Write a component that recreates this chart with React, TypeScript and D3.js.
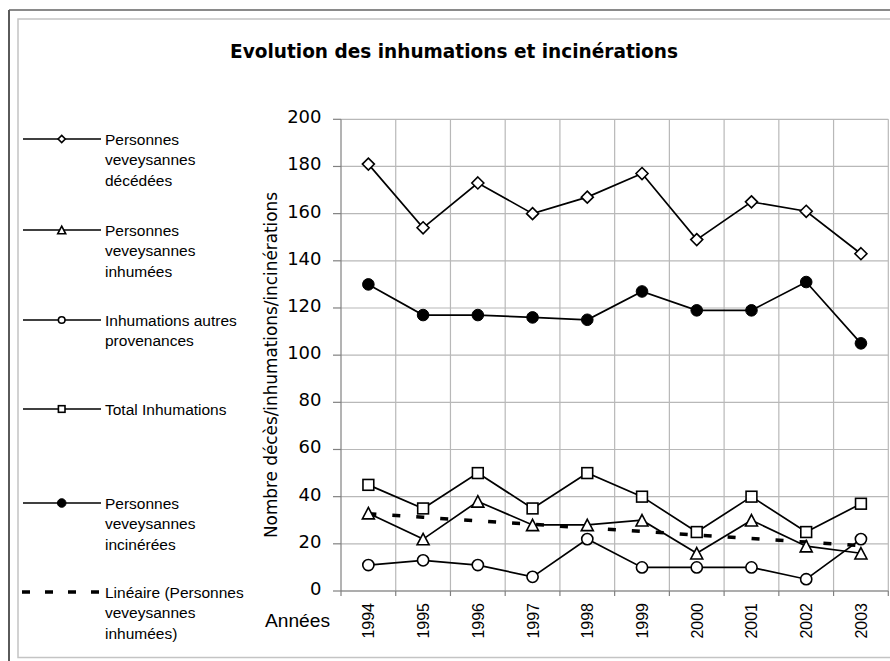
import React from "react";
import * as d3 from "d3";

const years = ["1994","1995","1996","1997","1998","1999","2000","2001","2002","2003"];
const decedees = [181,154,173,160,167,177,149,165,161,143];
const inhumees = [33,22,38,28,28,30,16,30,19,16];
const autres = [11,13,11,6,22,10,10,10,5,22];
const totalInh = [45,35,50,35,50,40,25,40,25,37];
const incinerees = [130,117,117,116,115,127,119,119,131,105];
const yTicks = [0,20,40,60,80,100,120,140,160,180,200];

const W = 890, H = 661;
const L = 341, R = 888.3, T = 119.3, B = 591;

type Mk = "diamond" | "triangle" | "circle" | "square" | "dot";

function marker(kind: Mk, cx: number, cy: number, s: number, key: string) {
  const st = { stroke: "#000", strokeWidth: 1.6 };
  if (kind === "diamond") {
    const p = `M${cx},${cy - s}L${cx + s},${cy}L${cx},${cy + s}L${cx - s},${cy}Z`;
    return <path key={key} d={p} fill="#fff" {...st} />;
  }
  if (kind === "triangle") {
    const h = s * 0.95;
    const p = `M${cx},${cy - h}L${cx + s},${cy + h}L${cx - s},${cy + h}Z`;
    return <path key={key} d={p} fill="#fff" {...st} />;
  }
  if (kind === "square") {
    return <rect key={key} x={cx - s} y={cy - s} width={2 * s} height={2 * s} fill="#fff" {...st} />;
  }
  if (kind === "circle") {
    return <circle key={key} cx={cx} cy={cy} r={s} fill="#fff" {...st} />;
  }
  return <circle key={key} cx={cx} cy={cy} r={s} fill="#000" stroke="#000" strokeWidth={1} />;
}

const series: { name: string[]; values: number[]; mk: Mk; size: number; lsize: number; ly: number }[] = [
  { name: ["Personnes", "veveysannes", "décédées"], values: decedees, mk: "diamond", size: 6, lsize: 3.6, ly: 139 },
  { name: ["Personnes", "veveysannes", "inhumées"], values: inhumees, mk: "triangle", size: 6, lsize: 4, ly: 230 },
  { name: ["Inhumations autres", "provenances"], values: autres, mk: "circle", size: 5.6, lsize: 3.3, ly: 320 },
  { name: ["Total Inhumations"], values: totalInh, mk: "square", size: 5.4, lsize: 3.3, ly: 409 },
  { name: ["Personnes", "veveysannes", "incinérées"], values: incinerees, mk: "dot", size: 5.8, lsize: 4.3, ly: 503 },
];
const trendName = ["Linéaire (Personnes", "veveysannes", "inhumées)"];
const trendLy = 592;

export default function App() {
  const x = d3.scaleBand<string>().domain(years).range([L, R]).padding(0);
  const y = d3.scaleLinear().domain([0, 200]).range([B, T]);
  const cx = (yr: string) => (x(yr) as number) + x.bandwidth() / 2;

  const line = d3.line<number>().x((_, i) => cx(years[i])).y((v) => y(v));

  // Linear trendline (least squares) of "Personnes veveysannes inhumées"
  const n = inhumees.length;
  const mx = d3.mean(d3.range(n)) as number;
  const my = d3.mean(inhumees) as number;
  const sxy = d3.sum(inhumees, (v, i) => (i - mx) * (v - my));
  const sxx = d3.sum(d3.range(n), (i) => (i - mx) * (i - mx));
  const slope = sxy / sxx;
  const icpt = my - slope * mx;
  const trend = d3.range(n).map((i) => icpt + slope * i);

  const font = "'Liberation Sans', Arial, sans-serif";
  const gfont = "'DejaVu Sans', Verdana, sans-serif";

  return (
    <svg width={W} height={H} style={{ position: "absolute", left: 0, top: 0, background: "#fff" }}>
      {/* frame */}
      <rect x={18} y={19} width={880} height={638.5} fill="#fff" stroke="#c4c4c4" strokeWidth={1.5} />
      <line x1={9} y1={10} x2={890} y2={10} stroke="#8a8a8a" strokeWidth={2} />
      <line x1={9} y1={10} x2={9} y2={661} stroke="#5a5a5a" strokeWidth={2} />

      {/* title */}
      <text x={454} y={58} textAnchor="middle" fontFamily={gfont} fontWeight="bold" fontSize={20}
        textLength={448} lengthAdjust="spacingAndGlyphs" fill="#000">
        Evolution des inhumations et incinérations
      </text>

      {/* grid */}
      {yTicks.map((t) => (
        <line key={"h" + t} x1={L} x2={R} y1={y(t)} y2={y(t)} stroke="#b8b8b8" strokeWidth={1.2} />
      ))}
      {years.map((yr) => (
        <line key={"v" + yr} x1={(x(yr) as number) + x.bandwidth()} x2={(x(yr) as number) + x.bandwidth()} y1={T} y2={B}
          stroke="#b8b8b8" strokeWidth={1.2} />
      ))}

      {/* axes */}
      <line x1={L} x2={L} y1={T} y2={B} stroke="#808080" strokeWidth={1.2} />
      <line x1={L} x2={R} y1={B} y2={B} stroke="#808080" strokeWidth={1.2} />
      {yTicks.map((t) => (
        <g key={"yt" + t}>
          <line x1={L - 8} x2={L} y1={y(t)} y2={y(t)} stroke="#808080" strokeWidth={1.2} />
          <text x={321.5} y={y(t) - 2.5} textAnchor="end" dominantBaseline="central" fontFamily={gfont}
            fontSize={18} fill="#000">{t}</text>
        </g>
      ))}
      {[L, ...years.map((yr) => (x(yr) as number) + x.bandwidth())].map((px, i) => (
        <line key={"xt" + i} x1={px} x2={px} y1={B} y2={B + 5} stroke="#808080" strokeWidth={1.2} />
      ))}
      {years.map((yr) => (
        <text key={"xl" + yr} transform={`translate(${cx(yr) + 6},603) rotate(-90)`} textAnchor="end"
          fontFamily={font} fontSize={16} fill="#000">{yr}</text>
      ))}

      <text x={265} y={626.5} fontFamily={font} fontSize={18} textLength={65} lengthAdjust="spacingAndGlyphs" fill="#000">Années</text>
      <text transform="translate(277,365) rotate(-90)" textAnchor="middle" fontFamily={gfont} fontSize={17}
        textLength={346} lengthAdjust="spacingAndGlyphs" fill="#000">
        Nombre décès/inhumations/incinérations
      </text>

      {/* series lines */}
      {series.map((s, i) => (
        <path key={"l" + i} d={line(s.values) as string} fill="none" stroke="#000" strokeWidth={1.7} />
      ))}
      {/* trendline */}
      <path d={line(trend) as string} fill="none" stroke="#000" strokeWidth={3.5} strokeDasharray="8,16" />
      {/* markers */}
      {series.map((s, i) => (
        <g key={"m" + i}>{s.values.map((v, j) => marker(s.mk, cx(years[j]), y(v), s.size, `m${i}-${j}`))}</g>
      ))}

      {/* legend */}
      {series.map((s, i) => (
        <g key={"lg" + i}>
          <line x1={23} x2={101} y1={s.ly} y2={s.ly} stroke="#000" strokeWidth={1.7} />
          {marker(s.mk, 61.7, s.ly, s.lsize, "lgm" + i)}
          {s.name.map((t, k) => (
            <text key={k} x={105} y={s.ly + 5.5 + k * 20.5} fontFamily={font} fontSize={15.5} fill="#000">{t}</text>
          ))}
        </g>
      ))}
      <line x1={22} x2={103} y1={trendLy} y2={trendLy} stroke="#000" strokeWidth={3.5} strokeDasharray="8,15" />
      {trendName.map((t, k) => (
        <text key={"tn" + k} x={105} y={trendLy + 5.5 + k * 20.5} fontFamily={font} fontSize={15.5} fill="#000">{t}</text>
      ))}
    </svg>
  );
}
